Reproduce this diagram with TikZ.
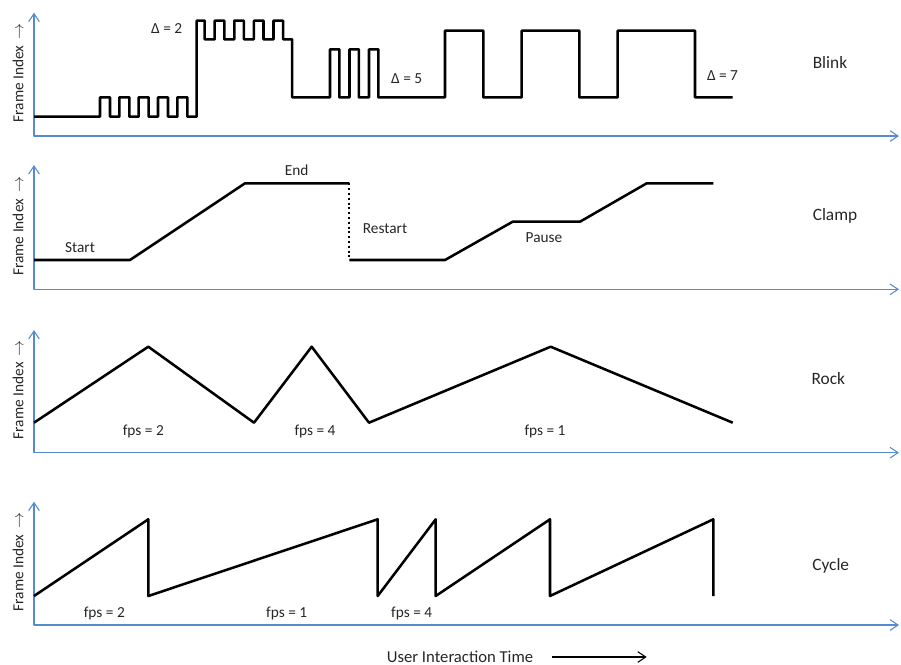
\documentclass[tikz,border=0pt]{standalone}
\usepackage{fontspec}
\setmainfont{Carlito}
\usetikzlibrary{arrows.meta}
\definecolor{axisblue}{RGB}{86,140,206}

\begin{document}
\begin{tikzpicture}[x=0.75pt,y=-0.75pt,line join=round,
  axis/.style={draw=axisblue,line width=0.8pt,
    {Straight Barb[length=6pt,width=8pt]}-{Straight Barb[length=6pt,width=8pt]}},
  curve/.style={draw=black,line width=1.9pt},
  lbl/.style={font=\fontsize{11.5}{13}\selectfont,text=black!85,inner sep=1pt},
  title/.style={font=\fontsize{13}{15}\selectfont,text=black!85},
  ylab/.style={font=\fontsize{11.5}{13}\selectfont,text=black!85,rotate=90}]
 \useasboundingbox (0,0) rectangle (901,665);
 % axes of the four panels
 \foreach \name/\base/\top in {blink/136/12.7,clamp/289.3/165,rock/452.7/330,cycle/625/501.7}{
   \draw[axis] (34,\top) |- (899,\base);
   \node[ylab] (fi-\name) at (18,\base-63) {Frame Index\, $\rightarrow$};
 }
 % blink
 \draw[curve] (34,116.7) -- (100,116.7)
   \foreach \i in {1,...,5} { -- ++(0,-19.4) -- ++(10,0) -- ++(0,19.4) -- ++(9.33,0) }
   -- (196.7,20.7) -- ++(8,0)
   \foreach \i in {1,...,4} { -- ++(0,18.6) -- ++(10,0) -- ++(0,-18.6) -- ++(9.6,0) }
   -- ++(0,18.6) -- ++(9,0) -- ++(0,58) -- (330,97.3)
   \foreach \i in {1,2,3} { -- ++(0,-48) -- ++(9.3,0) -- ++(0,48) -- ++(10.2,0) }
   -- (445,97.3) |- (483.3,30.7) |- (521.7,97.3) |- (579.3,30.7)
   |- (617.7,97.3) |- (695,30.7) |- (732.7,97.3);
 \node[lbl] (d2) at (166.7,28.3) {Δ = 2};
 \node[lbl] (d5) at (406.7,78.3) {Δ = 5};
 \node[lbl] (d7) at (722.5,76) {Δ = 7};
 \node[title] (blink) at (830,62.3) {Blink};
 % clamp
 \draw[curve] (34,260) -- (130,260) -- (245,183.3) -- (349.3,183.3);
 \draw[curve,line width=1.6pt,dotted] (349.3,183.3) -- (349.3,260);
 \draw[curve] (349.3,260) -- (445,260) -- (512.7,221.7) -- (580,221.7)
   -- (646.7,183.3) -- (713.3,183.3);
 \node[lbl] (start) at (80,247.3) {Start};
 \node[lbl] (end) at (296.7,170.7) {End};
 \node[lbl] (restart) at (385,228.3) {Restart};
 \node[lbl] (pause) at (544,237.3) {Pause};
 \node[title] (clamp) at (835,215.7) {Clamp};
 % rock
 \draw[curve] (34,422.7) -- (148.3,346.7) -- (254,422.7) -- (311.7,346.7)
   -- (369,422.7) -- (550.7,346.7) -- (732.7,422.7);
 \node[lbl] (rf2) at (143.3,431) {fps = 2};
 \node[lbl] (rf4) at (315,431) {fps = 4};
 \node[lbl] (rf1) at (545,431) {fps = 1};
 \node[title] (rock) at (828.3,378.3) {Rock};
 % cycle
 \draw[curve] (34,596) -- (148.3,519.3) -- (148.3,596) -- (377.7,519.3)
   -- (377.7,596) -- (435.7,519.3) -- (435.7,596) -- (550,519.3)
   -- (550,596) -- (713.3,519.3) -- (713.3,596);
 \node[lbl] (cf2) at (104.3,613.3) {fps = 2};
 \node[lbl] (cf1) at (286.7,613.3) {fps = 1};
 \node[lbl] (cf4) at (411.7,613.3) {fps = 4};
 \node[title] (cycle) at (830.7,566) {Cycle};
 % time axis caption
 \node[font=\fontsize{12.5}{14}\selectfont,text=black!85] (time) at (460,656.7) {User Interaction Time};
 \coordinate (tstart) at (552,657);
 \coordinate (tend) at (646.7,657);
 \draw[line width=0.8pt,-{Straight Barb[length=6pt,width=8pt]}] (tstart) -- (tend);
\end{tikzpicture}
\end{document}
